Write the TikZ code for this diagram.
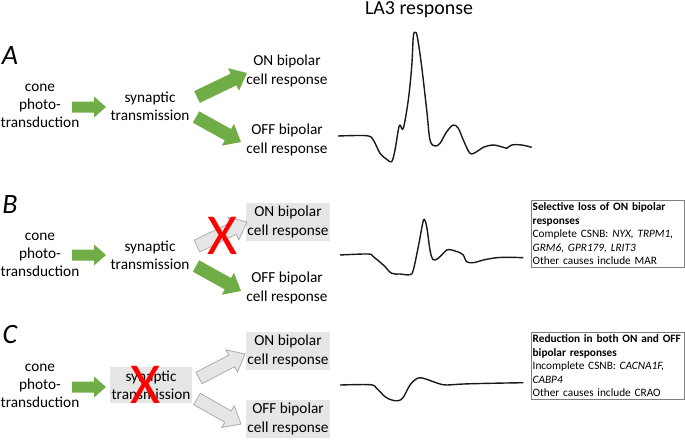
\documentclass[tikz,border=0pt]{standalone}
\usepackage{fontspec}
\setmainfont{Carlito}
\usepackage{tikz}
\usetikzlibrary{calc, positioning}
\usepackage{xcolor}

\definecolor{arrowgreen}{HTML}{70AD47}
\definecolor{arrowgrey}{HTML}{E7E6E6}
\definecolor{arrowedge}{HTML}{AFABAB}
\definecolor{boxgrey}{HTML}{E7E6E6}
\definecolor{notegrey}{HTML}{7F7F7F}
\definecolor{crossred}{HTML}{FF0000}

% block arrow: style, tail, tip, half body, half head, head length
\newcommand{\blockarrow}[6]{%
	\coordinate (neck) at ($(#3)!#6!(#2)$);
	\draw[#1] ($(#2)!#4!90:(#3)$) -- ($(neck)!#4!90:(#3)$) -- ($(neck)!#5!90:(#3)$) -- (#3)
		-- ($(neck)!#5!-90:(#3)$) -- ($(neck)!#4!-90:(#3)$) -- ($(#2)!#4!-90:(#3)$) -- cycle;}

\begin{document}
\begin{tikzpicture}[x=1pt, y=-1pt]
				\tikzstyle{txt} = [align=center, inner sep=0pt, font=\fontsize{15.3}{18.3}\selectfont]
				\tikzstyle{greybox} = [txt, fill=boxgrey, minimum width=84pt, minimum height=38pt]
				\tikzstyle{letter} = [inner sep=0pt, font=\fontsize{28}{30}\selectfont\itshape]
				\tikzstyle{cross} = [inner sep=0pt, text=crossred, font=\fontsize{58}{60}\selectfont]
				\tikzstyle{note} = [draw=notegrey, line width=0.9pt, anchor=north west, align=left, text width=151pt, inner xsep=1.2pt, inner ysep=2.5pt, font=\fontsize{11.3}{13.5}\selectfont]
				\tikzstyle{green} = [fill=arrowgreen, draw=none]
				\tikzstyle{grey} = [fill=arrowgrey, draw=arrowedge, line width=0.8pt]
				\tikzstyle{wave} = [line width=1.4pt, line join=round, black!90]
				
				\useasboundingbox (0,0) rectangle (685,439);
				
				\node[txt, font=\fontsize{19.9}{22}\selectfont]	at (419, 10)	(title)	{LA3 response};
				
				% A: normal
				\node[letter]			at (10, 56)		(la)	{A};
				\node[txt] 				at (40, 106) 	(conea) {cone\\photo-\\transduction};
				\node[txt] 				at (150, 106) 	(syna) 	{synaptic\\transmission};
				\node[txt] 				at (287, 71) 	(ona) 	{ON bipolar\\cell response};
				\node[txt] 				at (287, 140) 	(offa) 	{OFF bipolar\\cell response};
				\coordinate (ca1) at (72, 107);	\coordinate (ca2) at (106, 107);
				\coordinate (sa1) at (197, 97);	\coordinate (sa2) at (247, 73);
				\coordinate (sa3) at (196, 117);	\coordinate (sa4) at (241, 142);
				\blockarrow{green}{ca1}{ca2}{5.5pt}{10.5pt}{12pt}
				\blockarrow{green}{sa1}{sa2}{6.5pt}{12.5pt}{15pt}
				\blockarrow{green}{sa3}{sa4}{6.5pt}{12.5pt}{15pt}
				\draw[wave] plot[smooth, tension=0.55] coordinates {(338,136) (366.7,135.7) (373.3,140) (380,153.3) (386.7,159.3) (391.7,161.7) (395,150) (398.3,130) (400,125) (403.3,128.3) (408.3,100) (411.7,66.7) (413.3,36.7) (415,32.3) (417.3,36.7) (421.7,66.7) (426.7,110) (430,140) (435,146) (440,143.3) (446.7,131.7) (453.3,125) (458.3,128.3) (463.3,140) (470,153.3) (476.7,151.7) (483.3,147.3) (493.3,145) (503.3,147.3) (506.7,148.3) (511.7,145) (521.7,145) (531.7,147.3)};
				
				% B: ON pathway lost
				\node[letter]			at (10, 205)	(lb)	{B};
				\node[txt] 				at (40, 255) 	(coneb) {cone\\photo-\\transduction};
				\node[txt] 				at (150, 255) 	(synb) 	{synaptic\\transmission};
				\node[greybox] 			at (288, 222) 	(onb) 	{ON bipolar\\cell response};
				\node[txt] 				at (287, 288) 	(offb) 	{OFF bipolar\\cell response};
				\coordinate (cb1) at (72, 255);	\coordinate (cb2) at (106, 255);
				\coordinate (sb1) at (197, 246);	\coordinate (sb2) at (247, 222);
				\coordinate (sb3) at (196, 266);	\coordinate (sb4) at (241, 291);
				\blockarrow{green}{cb1}{cb2}{5.5pt}{10.5pt}{12pt}
				\blockarrow{grey}{sb1}{sb2}{6.5pt}{12.5pt}{15pt}
				\blockarrow{green}{sb3}{sb4}{6.5pt}{12.5pt}{15pt}
				\node[cross]			at (223, 236)	(xb)	{X};
				\draw[wave] plot[smooth, tension=0.55] coordinates {(340,255) (368.3,254) (373.3,256.7) (383.3,265) (391.7,273.3) (400,274) (410,274.7) (413.3,270) (418.3,246.7) (422.7,223.3) (424.3,219.3) (426.7,226.7) (430,250) (432.7,259.3) (436.7,259.3) (441.7,255) (446.7,250) (451.7,250) (460,252.7) (463.3,255) (466.7,261.7) (473.3,262.7) (483.3,260) (496.7,257.7) (510,257.3) (523.3,257.7)};
				\node[note]				at (531, 200)	(noteb)	{\textbf{Selective loss of ON bipolar}\\\textbf{responses}\\Complete CSNB: \textit{NYX, TRPM1,}\\\textit{GRM6, GPR179, LRIT3}\\Other causes include MAR};
				
				% C: synaptic transmission lost
				\node[letter]			at (10, 335)	(lc)	{C};
				\node[txt] 				at (40, 386) 	(conec) {cone\\photo-\\transduction};
				\node[greybox, minimum width=82pt, minimum height=36pt] at (151, 385) (sync) {synaptic\\transmission};
				\node[greybox] 			at (288, 351) 	(onc) 	{ON bipolar\\cell response};
				\node[greybox] 			at (288, 419) 	(offc) 	{OFF bipolar\\cell response};
				\coordinate (cc1) at (72, 387);	\coordinate (cc2) at (106, 387);
				\coordinate (sc1) at (199, 378);	\coordinate (sc2) at (245, 354);
				\coordinate (sc3) at (197, 399);	\coordinate (sc4) at (241, 424);
				\blockarrow{green}{cc1}{cc2}{5.5pt}{10.5pt}{12pt}
				\blockarrow{grey}{sc1}{sc2}{6.5pt}{12.5pt}{15pt}
				\blockarrow{grey}{sc3}{sc4}{6.5pt}{12.5pt}{15pt}
				\node[cross]			at (146, 385)	(xc)	{X};
				\draw[wave] plot[smooth, tension=0.55] coordinates {(340,385) (370,384.7) (376.7,388.3) (385,396.7) (391.7,400) (398.3,400.7) (403.3,397.3) (410,385) (417.3,378.3) (423.3,378.3) (433.3,381.7) (440,384) (446.7,385) (463.3,384) (490,383.3) (523.3,382.7)};
				\node[note]				at (531, 332)	(notec)	{\textbf{Reduction in both ON and OFF}\\\textbf{bipolar responses}\\Incomplete CSNB: \textit{CACNA1F,}\\\textit{CABP4}\\Other causes include CRAO};
			\end{tikzpicture}
\end{document}
